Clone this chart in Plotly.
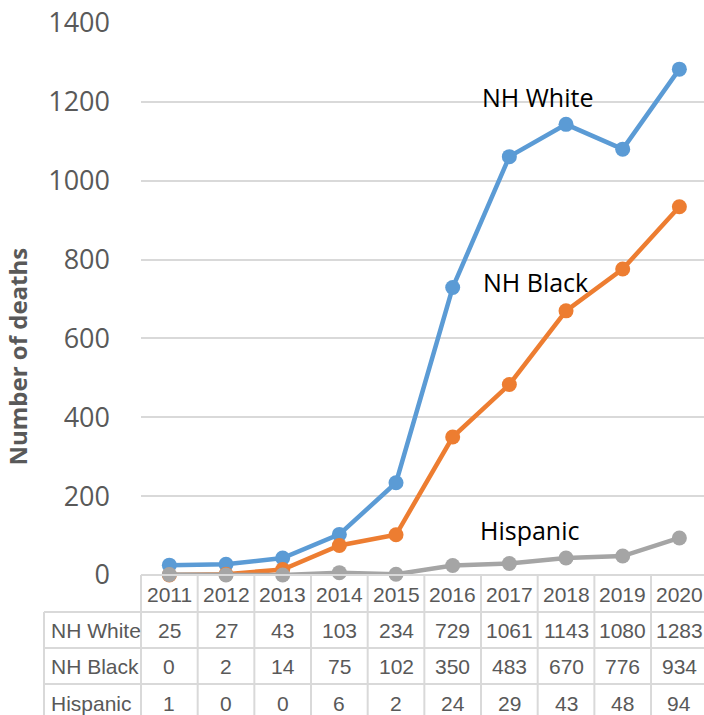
import plotly.graph_objects as go

years = ["2011", "2012", "2013", "2014", "2015", "2016", "2017", "2018", "2019", "2020"]
nh_white = [25, 27, 43, 103, 234, 729, 1061, 1143, 1080, 1283]
nh_black = [0, 2, 14, 75, 102, 350, 483, 670, 776, 934]
hispanic = [1, 0, 0, 6, 2, 24, 29, 43, 48, 94]
series_names = ["NH White", "NH Black", "Hispanic"]
series_values = [nh_white, nh_black, hispanic]
colors = ["#5B9BD5", "#ED7D31", "#A5A5A5"]
y_ticks = [0, 200, 400, 600, 800, 1000, 1200, 1400]

W, H = 704, 715
ML, MR, MT, MB = 141, 0, 23, 140
plot_w = W - ML - MR
plot_h = H - MT - MB
cell = 56.67
xr = [-0.5, -0.5 + plot_w / cell]
xspan = xr[1] - xr[0]

def px_x(px):
    return (px - ML) / plot_w

def px_y(py):
    return (H - MB - py) / plot_h

def dx_paper(v):
    return (v - xr[0]) / xspan

fig = go.Figure()
for name, vals, c in zip(series_names, series_values, colors):
    fig.add_trace(go.Scatter(
        x=list(range(len(years))), y=vals, mode="lines+markers", name=name,
        line=dict(color=c, width=4.5), marker=dict(color=c, size=15),
        cliponaxis=False, showlegend=False))

grid_c = "#D9D9D9"
txt_c = "#595959"
tfont = dict(family="Liberation Sans Narrow, Arial Narrow, Liberation Sans, Arial", size=21, color=txt_c)

shapes = []
annotations = []
# horizontal table lines
shapes.append(dict(type="line", xref="paper", yref="paper", x0=0, x1=1.02, y0=0, y1=0,
                   line=dict(color=grid_c, width=2)))
for py in [612, 648, 684]:
    shapes.append(dict(type="line", xref="paper", yref="paper", x0=px_x(44), x1=1.02,
                       y0=px_y(py), y1=px_y(py), line=dict(color=grid_c, width=2)))
# vertical table lines
for k in range(len(years) + 1):
    xp = dx_paper(k - 0.5)
    if xp > 1.0:
        continue
    shapes.append(dict(type="line", xref="paper", yref="paper", x0=xp, x1=xp,
                       y0=0, y1=px_y(H + 5), line=dict(color=grid_c, width=2)))
shapes.append(dict(type="line", xref="paper", yref="paper", x0=px_x(44), x1=px_x(44),
                   y0=px_y(612), y1=px_y(H + 5), line=dict(color=grid_c, width=2)))

# header
for i, yv in enumerate(years):
    annotations.append(dict(x=dx_paper(i), y=px_y(594), xref="paper", yref="paper", text=yv,
                            showarrow=False, font=tfont, xanchor="center", yanchor="middle"))
row_centers = [630.5, 666.5, 703.5]
for name, vals, rc in zip(series_names, series_values, row_centers):
    annotations.append(dict(x=px_x(49), y=px_y(rc), xref="paper", yref="paper", text=name,
                            showarrow=False, font=tfont, xanchor="left", yanchor="middle"))
    for i, v in enumerate(vals):
        annotations.append(dict(x=dx_paper(i), y=px_y(rc), xref="paper", yref="paper", text=str(v),
                                showarrow=False, font=tfont, xanchor="center", yanchor="middle"))

# series labels
lab_font = dict(family="Open Sans", size=25, color="#000000")
for name, lx, ly in [("NH White", 6.49, 1212), ("NH Black", 6.46, 743), ("Hispanic", 6.36, 114)]:
    annotations.append(dict(x=lx, y=ly, xref="x", yref="y", text=name, showarrow=False,
                            font=lab_font, xanchor="center", yanchor="middle"))

# y axis title
annotations.append(dict(x=px_x(17), y=px_y(356.5), xref="paper", yref="paper",
                        text="<b>Number of deaths</b>", textangle=-90, showarrow=False,
                        font=dict(family="Open Sans", size=24, color=txt_c),
                        xanchor="center", yanchor="middle"))

fig.update_layout(
    width=W, height=H, margin=dict(l=ML, r=MR, t=MT, b=MB),
    paper_bgcolor="white", plot_bgcolor="white",
    xaxis=dict(range=xr, showticklabels=False, showgrid=False, zeroline=False,
               showline=False, ticks=""),
    yaxis=dict(range=[0, 1400], tickvals=y_ticks, showgrid=True, gridcolor=grid_c, gridwidth=2,
               zeroline=False, showline=False, ticks="", ticklabelstandoff=30,
               tickfont=dict(family="Open Sans", size=27, color=txt_c)),
    shapes=shapes, annotations=annotations,
)
fig.write_html("out.html", config={"displayModeBar": False},
               post_script="document.body.style.margin='0';document.body.style.overflow='hidden';")
